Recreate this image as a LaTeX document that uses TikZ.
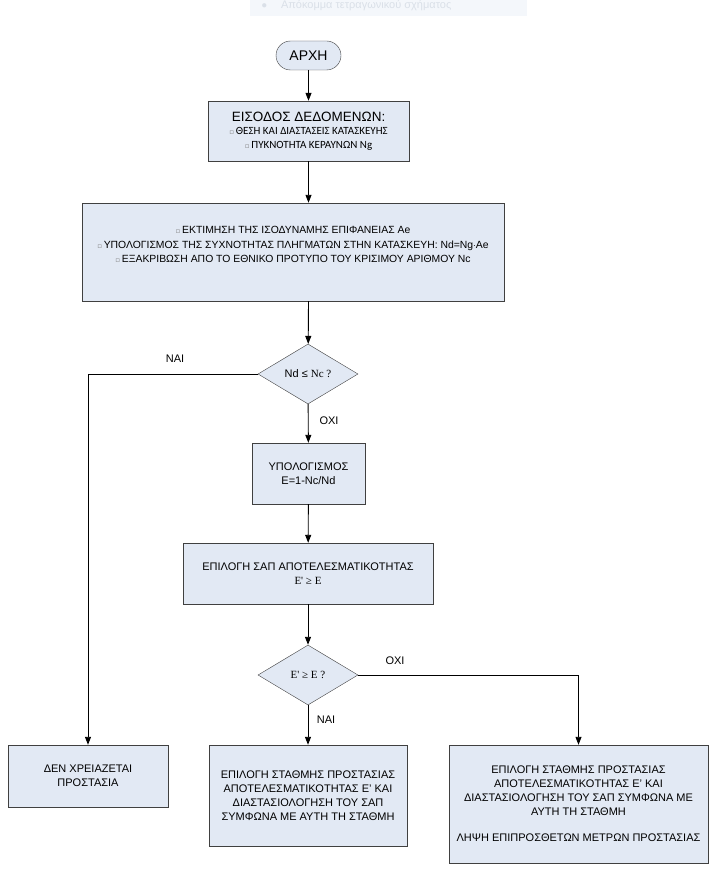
\documentclass[tikz,border=0pt]{standalone}
\usepackage{fontspec}
\setmainfont{Liberation Sans}
\newfontfamily\calib{Carlito}
\newfontfamily\tnr{Liberation Serif}
\newfontfamily\symb{DejaVu Sans}
\usetikzlibrary{shapes.geometric, arrows.meta, positioning}

\definecolor{boxfill}{RGB}{226,233,244}
\definecolor{boxline}{RGB}{64,64,64}
\definecolor{snipfill}{RGB}{244,247,251}
\definecolor{sniptext}{RGB}{218,224,232}

\newcommand{\sq}{{\symb\fontsize{7}{7}\selectfont\textcolor{gray}{▫}}\,}

\begin{document}
\begin{tikzpicture}[
    x=1pt, y=-1pt,
    startstop/.style={rectangle, rounded corners=14.5pt, minimum width=65pt, minimum height=29pt, inner sep=0pt, text centered, draw=boxline, fill=boxfill, font=\fontsize{14}{16}\selectfont},
    process/.style={rectangle, inner sep=0pt, align=center, draw=boxline, fill=boxfill, font=\fontsize{11}{14}\selectfont},
    decision/.style={diamond, minimum width=100pt, minimum height=60pt, inner sep=0pt, text centered, draw=boxline, fill=boxfill, font=\fontsize{11}{13}\selectfont},
    answer/.style={font=\fontsize{11}{13}\selectfont},
    arrow/.style={line width=0.9pt, -{Triangle[length=8pt, width=6pt]}}
    ]
    \useasboundingbox (0,0) rectangle (714,872);

    % Snip overlay at the top
    \node (snip) [rectangle, fill=snipfill, minimum width=277pt, minimum height=17pt, inner sep=0pt] at (388.5,7.5) {};
    \node (sniptxt) [text=sniptext, font=\fontsize{11}{13}\selectfont, anchor=west] at (258,5) {$\bullet$\hspace{14pt}Απόκομμα τετραγωνικού σχήματος};

    % Main column
    \node (start) [startstop] at (308.5,55.5) {ΑΡΧΗ};
    \node (input) [process, minimum width=201pt, minimum height=60pt] at (308.5,131)
        {{\fontsize{13.5}{15}\selectfont ΕΙΣΟΔΟΣ ΔΕΔΟΜΕΝΩΝ:}\\[-1pt]
         {\calib\fontsize{11}{13}\selectfont \sq ΘΕΣΗ ΚΑΙ ΔΙΑΣΤΑΣΕΙΣ ΚΑΤΑΣΚΕΥΗΣ}\\[0pt]
         {\calib\fontsize{11}{13}\selectfont \sq ΠΥΚΝΟΤΗΤΑ ΚΕΡΑΥΝΩΝ Ng}};
    \node (estimate) [process, minimum width=422pt, minimum height=98pt, font=\fontsize{10.4}{14.5}\selectfont] at (293,252)
        {\sq ΕΚΤΙΜΗΣΗ ΤΗΣ ΙΣΟΔΥΝΑΜΗΣ ΕΠΙΦΑΝΕΙΑΣ Ae\\
         \sq ΥΠΟΛΟΓΙΣΜΟΣ ΤΗΣ ΣΥΧΝΟΤΗΤΑΣ ΠΛΗΓΜΑΤΩΝ ΣΤΗΝ ΚΑΤΑΣΚΕΥΗ: Nd=Ng$\cdot$Ae\\
         \sq ΕΞΑΚΡΙΒΩΣΗ ΑΠΟ ΤΟ ΕΘΝΙΚΟ ΠΡΟΤΥΠΟ ΤΟΥ ΚΡΙΣΙΜΟΥ ΑΡΙΘΜΟΥ Nc\\ \mbox{}};
    \node (check1) [decision] at (308,374) {Nd ≤ {\tnr Nc ?}};
    \node (calc) [process, minimum width=113pt, minimum height=61pt] at (308.5,473.5)
        {ΥΠΟΛΟΓΙΣΜΟΣ\\ E=1-Nc/Nd};
    \node (select) [process, minimum width=250pt, minimum height=61pt] at (308,573.5)
        {ΕΠΙΛΟΓΗ ΣΑΠ ΑΠΟΤΕΛΕΣΜΑΤΙΚΟΤΗΤΑΣ\\ {\tnr E' ≥ E}};
    \node (check2) [decision] at (308,675) {\tnr E' ≥ E ?};

    % Result boxes
    \node (nobox) [process, minimum width=160pt, minimum height=62pt] at (88,776)
        {ΔΕΝ ΧΡΕΙΑΖΕΤΑΙ\\ ΠΡΟΣΤΑΣΙΑ};
    \node (yesbox) [process, minimum width=198pt, minimum height=101pt] at (308,795.5)
        {ΕΠΙΛΟΓΗ ΣΤΑΘΜΗΣ ΠΡΟΣΤΑΣΙΑΣ\\ ΑΠΟΤΕΛΕΣΜΑΤΙΚΟΤΗΤΑΣ Ε' ΚΑΙ\\ ΔΙΑΣΤΑΣΙΟΛΟΓΗΣΗ ΤΟΥ ΣΑΠ\\ ΣΥΜΦΩΝΑ ΜΕ ΑΥΤΗ ΤΗ ΣΤΑΘΜΗ};
    \node (extra) [process, minimum width=259pt, minimum height=118pt] at (578.5,804)
        {ΕΠΙΛΟΓΗ ΣΤΑΘΜΗΣ ΠΡΟΣΤΑΣΙΑΣ\\ ΑΠΟΤΕΛΕΣΜΑΤΙΚΟΤΗΤΑΣ Ε' ΚΑΙ\\ ΔΙΑΣΤΑΣΙΟΛΟΓΗΣΗ ΤΟΥ ΣΑΠ ΣΥΜΦΩΝΑ ΜΕ\\ ΑΥΤΗ ΤΗ ΣΤΑΘΜΗ\\[12pt] ΛΗΨΗ ΕΠΙΠΡΟΣΘΕΤΩΝ ΜΕΤΡΩΝ ΠΡΟΣΤΑΣΙΑΣ};

    % Arrows
    \draw [arrow] (start) -- (input);
    \draw [arrow] (input) -- (input |- estimate.north);
    \draw [arrow] (input |- estimate.south) -- (check1);
    \draw [arrow] (check1) -- (calc);
    \draw [arrow] (calc) -- (select);
    \draw [arrow] (select) -- (check2);
    \draw [arrow] (check1.west) -| (nobox.north);
    \draw [arrow] (check2) -- (yesbox);
    \draw [arrow] (check2.east) -| (extra.north);

    % Labels
    \node (yes1) [answer] at (175,359) {ΝΑΙ};
    \node (no1) [answer] at (329,421) {ΟΧΙ};
    \node (no2) [answer] at (395,661) {ΟΧΙ};
    \node (yes2) [answer] at (326,720) {ΝΑΙ};

\end{tikzpicture}
\end{document}
